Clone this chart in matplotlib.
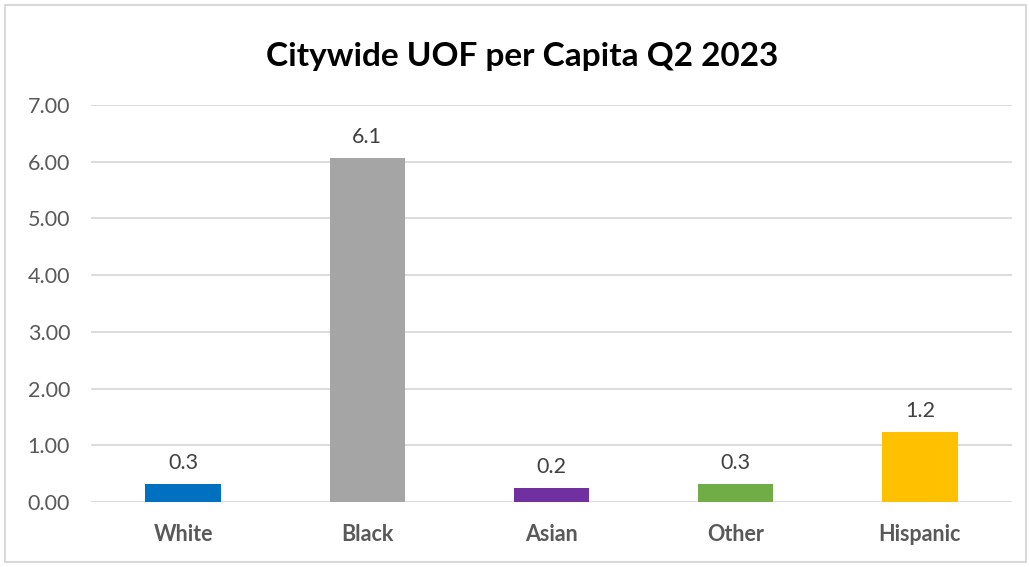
import matplotlib
matplotlib.use('Agg')
import matplotlib.pyplot as plt
from matplotlib.patches import Rectangle

plt.rcParams['font.family'] = ['Lato', 'DejaVu Sans']

groups = ['White', 'Black', 'Asian', 'Other', 'Hispanic']
uof_per_capita = [0.31, 6.07, 0.24, 0.31, 1.24]
bar_colors = ['#0070C0', '#A5A5A5', '#7030A0', '#70AD47', '#FFC000']
y_ticks = [0, 1, 2, 3, 4, 5, 6, 7]

fig = plt.figure(figsize=(10.29, 5.67), dpi=100)
ax = fig.add_axes([91 / 1029, 1 - 502 / 567, (1012 - 91) / 1029, (502 - 105) / 567])

x = range(len(groups))
bars = ax.bar(x, uof_per_capita, width=0.41, color=bar_colors, zorder=3)
for b, v in zip(bars, uof_per_capita):
    ax.annotate('%.1f' % v, (b.get_x() + b.get_width() / 2, v),
                xytext=(0, 8), textcoords='offset points',
                ha='center', va='bottom', fontsize=15.5, color='#404040')

ax.set_xlim(-0.5, len(groups) - 0.5)
ax.set_ylim(0, 7)
ax.set_yticks(y_ticks)
ax.set_yticklabels(['%.2f' % t for t in y_ticks])
ax.set_xticks(list(x))
ax.set_xticklabels(groups, fontweight='bold')
ax.tick_params(axis='y', length=0, pad=15, labelsize=15.5, labelcolor='#595959')
ax.tick_params(axis='x', length=0, pad=16, labelsize=15.5, labelcolor='#595959')
ax.grid(axis='y', color='#D9D9D9', linewidth=1.3, zorder=0)
for s in ax.spines.values():
    s.set_visible(False)

fig.text(522 / 1029, 1 - 57 / 567, 'Citywide UOF per Capita Q2 2023', ha='center', va='center',
         fontsize=24, fontweight='bold', color='black')

# light frame round the chart
fig.patches.append(Rectangle((5 / 1029, 5 / 567), 1021 / 1029, 557 / 567,
                             transform=fig.transFigure, fill=False,
                             edgecolor='#D9D9D9', linewidth=1.5))

fig.savefig('out.png', dpi=100, facecolor='white')
